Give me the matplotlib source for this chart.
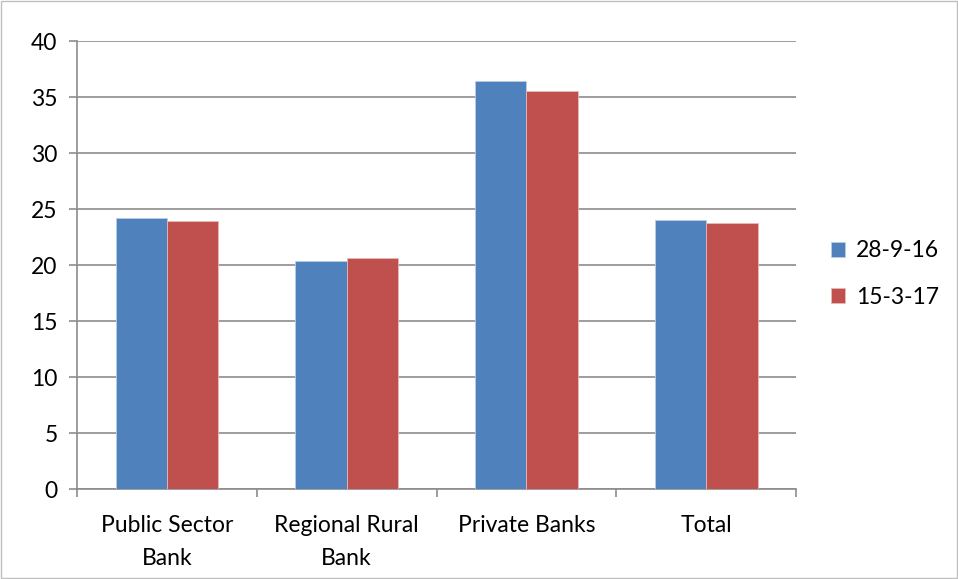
import numpy as np
import matplotlib.pyplot as plt
from matplotlib.patches import Rectangle

categories = ["Public Sector\nBank", "Regional Rural\nBank", "Private Banks", "Total"]
series_names = ["28-9-16", "15-3-17"]
vals_sep16 = [24.2, 20.4, 36.4, 24.0]
vals_mar17 = [23.9, 20.65, 35.5, 23.75]
colors = ["#4f81bd", "#c0504d"]

plt.rcParams['font.family'] = ['Lato', 'DejaVu Sans']
fs = 16.5

fig = plt.figure(figsize=(9.58, 5.79), dpi=100)
ax = fig.add_axes([0.0804, 0.1554, 0.7506, 0.7736])

x = np.arange(len(categories))
w = 1 / 3.5
ax.bar(x - w / 2, vals_sep16, w, color=colors[0], label=series_names[0], zorder=3,
       edgecolor='#b9cde5', linewidth=0.6)
ax.bar(x + w / 2, vals_mar17, w, color=colors[1], label=series_names[1], zorder=3,
       edgecolor='#e6b9b8', linewidth=0.6)

ax.set_xlim(-0.5, 3.5)
ax.set_ylim(0, 40)
ax.set_yticks(range(0, 41, 5))
ax.yaxis.grid(True, color='#8c8c8c', linewidth=1.2, zorder=0)
ax.set_axisbelow(True)

ax.set_xticks(x)
ax.set_xticklabels(categories, fontsize=fs, linespacing=1.7)
ax.set_xticks(np.arange(-0.5, 4.0, 1), minor=True)
ax.tick_params(axis='x', which='major', length=0, pad=19)
ax.tick_params(axis='x', which='minor', length=6, color='#8c8c8c', width=1.2)
ax.tick_params(axis='y', length=6, color='#8c8c8c', width=1.2, labelsize=fs, pad=8)

for s in ['top', 'right']:
    ax.spines[s].set_visible(False)
for s in ['left', 'bottom']:
    ax.spines[s].set_color('#8c8c8c')
    ax.spines[s].set_linewidth(1.2)

ax.legend(loc='center left', bbox_to_anchor=(1.02, 0.48), frameon=False, fontsize=fs,
          handlelength=0.6, handleheight=0.6, handletextpad=0.5, labelspacing=1.1)

fig.patches.append(Rectangle((0.001, 0.001), 0.998, 0.997, transform=fig.transFigure,
                             fill=False, edgecolor='#bfbfbf', linewidth=1))

fig.savefig("out.png", dpi=100)
